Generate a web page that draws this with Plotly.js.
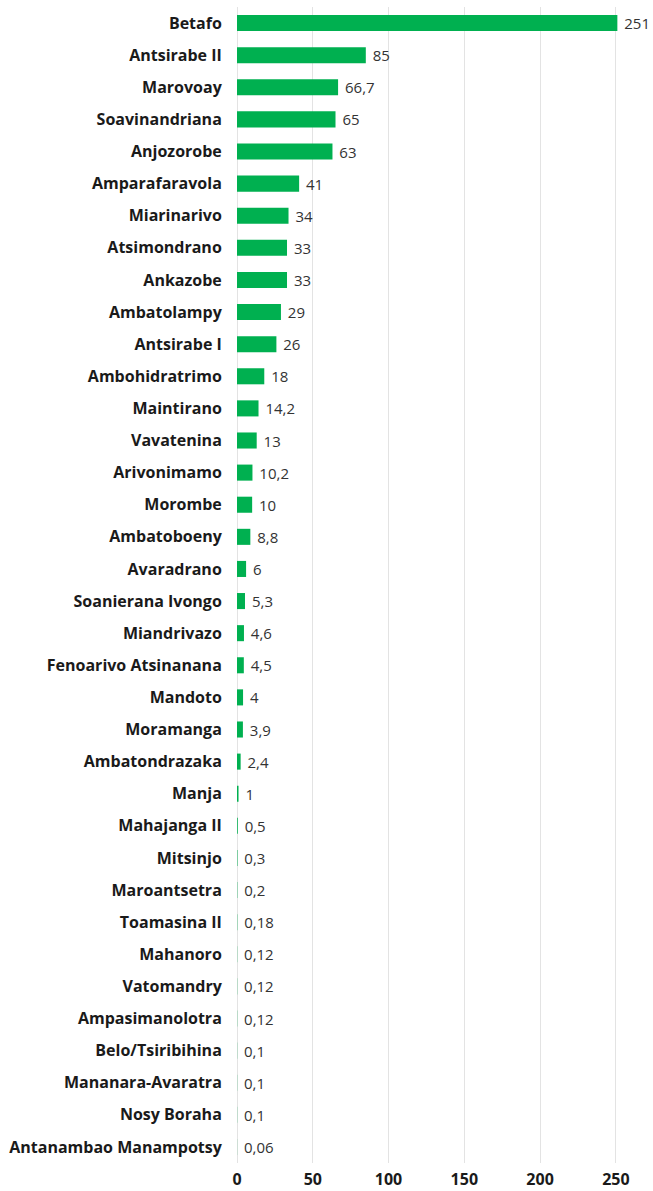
<!DOCTYPE html>
<html><head><meta charset="utf-8">
<script src="https://cdn.plot.ly/plotly-3.0.1.min.js"></script>
<style>html,body{margin:0;padding:0;background:#fff}#chart{width:653px;height:1191px}</style>
</head><body><div id="chart"></div>
<script>
const districts = ["Betafo","Antsirabe II","Marovoay","Soavinandriana","Anjozorobe","Amparafaravola","Miarinarivo","Atsimondrano","Ankazobe","Ambatolampy","Antsirabe I","Ambohidratrimo","Maintirano","Vavatenina","Arivonimamo","Morombe","Ambatoboeny","Avaradrano","Soanierana Ivongo","Miandrivazo","Fenoarivo Atsinanana","Mandoto","Moramanga","Ambatondrazaka","Manja","Mahajanga II","Mitsinjo","Maroantsetra","Toamasina II","Mahanoro","Vatomandry","Ampasimanolotra","Belo/Tsiribihina","Mananara-Avaratra","Nosy Boraha","Antanambao Manampotsy"];
const values = [251,85,66.7,65,63,41,34,33,33,29,26,18,14.2,13,10.2,10,8.8,6,5.3,4.6,4.5,4,3.9,2.4,1,0.5,0.3,0.2,0.18,0.12,0.12,0.12,0.1,0.1,0.1,0.06];
const tickVals = [0,50,100,150,200,250];
const labels = values.map(v => " " + String(v).replace('.', ','));

const font = "Open Sans, sans-serif";
Plotly.newPlot('chart', [{
  type: 'bar', orientation: 'h',
  x: values, y: districts,
  marker: {color: '#00b050'},
  text: labels, textposition: 'outside', cliponaxis: false, constraintext: 'none',
  textfont: {family: font, size: 15, color: '#333333'},
  hoverinfo: 'none'
}], {
  width: 653, height: 1191,
  margin: {l: 237, r: 22, t: 7, b: 28},
  paper_bgcolor: '#fff', plot_bgcolor: '#fff',
  bargap: 0.5,
  showlegend: false,
  xaxis: {range: [0, 260], tickvals: tickVals, showgrid: true, gridcolor: '#e3e3e3', gridwidth: 1,
    zeroline: true, zerolinecolor: '#e3e3e3', zerolinewidth: 1,
    ticks: 'outside', ticklen: 2, tickcolor: 'rgba(0,0,0,0)',
    tickfont: {family: font, size: 16, color: '#1a1a1a', weight: 'bold'}},
  yaxis: {autorange: 'reversed', showgrid: false, zeroline: false, ticks: 'outside', ticklen: 11, tickcolor: 'rgba(0,0,0,0)',
    tickfont: {family: font, size: 16, color: '#1a1a1a', weight: 'bold'}}
}, {staticPlot: true});
</script></body></html>
